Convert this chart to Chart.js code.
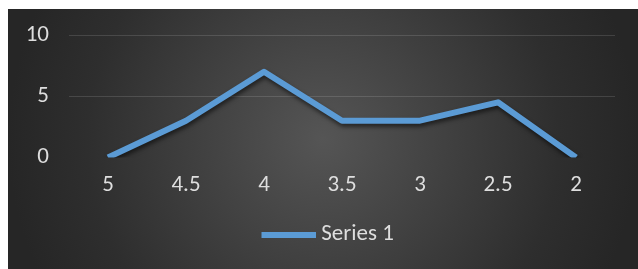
<!DOCTYPE html>
<html>
<head>
<meta charset="utf-8">
<script src="https://cdn.jsdelivr.net/npm/chart.js@4/dist/chart.umd.min.js"></script>
<style>
  html, body { margin: 0; padding: 0; background: #fff; }
  #wrap {
    position: absolute; left: 8px; top: 9px; width: 630px; height: 260px;
    background: radial-gradient(circle farthest-side at 50% 50%, #555555 0%, #2e2e2e 75%, #262626 100%);
  }
</style>
</head>
<body>
<div id="wrap"><canvas id="mycanvas" width="630" height="260"></canvas></div>
<script>
var categories = ['5', '4.5', '4', '3.5', '3', '2.5', '2'];
var series1 = [0, 3, 7, 3, 3, 4.5, 0];
var yTicks = [0, 5, 10];

var textColor = '#dedede';
var lineColor = '#5b9bd5';
var fontFam = 'Carlito, "DejaVu Sans Condensed", sans-serif';

// soft shadow under the line, like the office style
var lineShadow = {
  id: 'lineShadow',
  beforeDatasetsDraw: function(chart) {
    var c = chart.ctx;
    c.save();
    c.shadowColor = 'rgba(0,0,0,0.55)';
    c.shadowBlur = 4;
    c.shadowOffsetX = 1;
    c.shadowOffsetY = 3;
  },
  afterDatasetsDraw: function(chart) {
    chart.ctx.restore();
  }
};

// legend swatch: a short thick line (left part transparent so the key sits closer to the text)
var swatch = document.createElement('canvas');
swatch.width = 78;
swatch.height = 6;
var sctx = swatch.getContext('2d');
sctx.fillStyle = lineColor;
sctx.fillRect(23, 0, 55, 6);

var ctx = document.getElementById('mycanvas');
var lineChart = new Chart(ctx, {
  type: 'line',
  data: {
    labels: categories,
    datasets: [{
      label: 'Series 1',
      data: series1,
      borderColor: lineColor,
      backgroundColor: lineColor,
      borderWidth: 6,
      borderJoinStyle: 'round',
      pointRadius: 0,
      pointHoverRadius: 0,
      tension: 0,
      fill: false
    }]
  },
  options: {
    responsive: false,
    animation: false,
    events: [],
    layout: { padding: { left: 16, right: 23, top: 26, bottom: 13 } },
    plugins: {
      tooltip: { enabled: false },
      legend: {
        position: 'bottom',
        labels: {
          color: textColor,
          font: { family: fontFam, size: 23 },
          usePointStyle: true,
          pointStyle: swatch,
          pointStyleWidth: 64.5,
          boxHeight: 6,
          padding: 10
        }
      }
    },
    scales: {
      x: {
        offset: true,
        grid: { display: false, drawTicks: false },
        border: { display: false },
        ticks: { color: textColor, font: { family: fontFam, size: 23 }, padding: 14 }
      },
      y: {
        min: 0,
        max: 10,
        afterFit: function(scale) {
          scale.width = 45;
          scale.paddingTop = 0;
          scale.paddingBottom = 0;
        },
        afterBuildTicks: function(scale) {
          scale.ticks = yTicks.map(function(v) { return { value: v }; });
        },
        grid: {
          drawTicks: false,
          color: function(c) { return c.tick && c.tick.value === 0 ? 'rgba(0,0,0,0)' : 'rgba(255,255,255,0.13)'; }
        },
        border: { display: false },
        ticks: { color: textColor, font: { family: fontFam, size: 23 }, padding: 20 }
      }
    }
  },
  plugins: [lineShadow]
});
</script>
</body>
</html>
